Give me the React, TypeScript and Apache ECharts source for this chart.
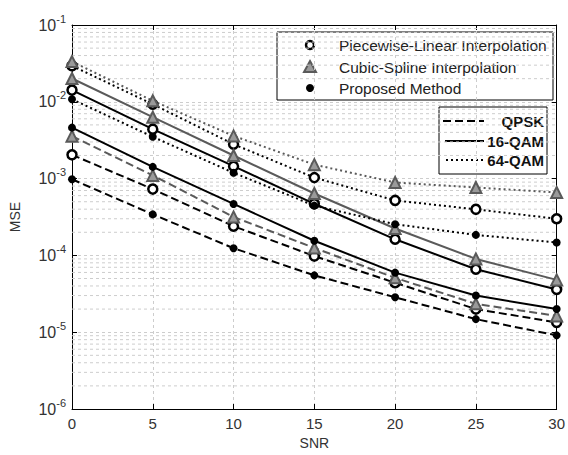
import React, { useEffect, useRef } from "react";
import * as echarts from "echarts";

const snr = [0, 5, 10, 15, 20, 25, 30];
const xTicks = [0, 5, 10, 15, 20, 25, 30];
const yTickExponents = [-6, -5, -4, -3, -2, -1];

const methodNames = ["Piecewise-Linear Interpolation", "Cubic-Spline Interpolation", "Proposed Method"];
const modulationNames = ["QPSK", "16-QAM", "64-QAM"];

const plQpsk = [2.04e-3, 7.3e-4, 2.4e-4, 9.8e-5, 4.4e-5, 2.0e-5, 1.34e-5];
const pl16 = [1.42e-2, 4.4e-3, 1.45e-3, 4.7e-4, 1.62e-4, 6.6e-5, 3.6e-5];
const pl64 = [2.94e-2, 9.3e-3, 2.8e-3, 1.03e-3, 5.2e-4, 3.98e-4, 3.0e-4];
const csQpsk = [3.57e-3, 1.1e-3, 3.17e-4, 1.25e-4, 5.1e-5, 2.34e-5, 1.63e-5];
const cs16 = [2.01e-2, 6.3e-3, 2.0e-3, 6.4e-4, 2.24e-4, 9.0e-5, 4.8e-5];
const cs64 = [3.34e-2, 1.03e-2, 3.6e-3, 1.52e-3, 8.9e-4, 7.66e-4, 6.6e-4];
const prQpsk = [9.8e-4, 3.42e-4, 1.24e-4, 5.5e-5, 2.85e-5, 1.48e-5, 9.1e-6];
const pr16 = [4.61e-3, 1.42e-3, 4.68e-4, 1.55e-4, 5.96e-5, 3.0e-5, 2.0e-5];
const pr64 = [1.08e-2, 3.5e-3, 1.19e-3, 4.45e-4, 2.55e-4, 1.85e-4, 1.47e-4];

const FONT = "'Liberation Sans', Arial, sans-serif";
const BLACK = "#000000";
const GRAY = "#5a5a5a";
const GRID = "#cdcdcd";

const dashTypes: Record<string, any> = {
  QPSK: [8, 4],
  "16-QAM": "solid",
  "64-QAM": [2, 3],
};

function makeSeries(name: string, values: number[], method: number, mod: string) {
  const color = method === 1 ? GRAY : BLACK;
  let symbol = "circle";
  let symbolSize = 9;
  let itemStyle: any = { color: "#ffffff", borderColor: BLACK, borderWidth: 2.5 };
  if (method === 1) {
    symbol = "triangle";
    symbolSize = 11;
    itemStyle = { color: "#9a9a9a", borderColor: GRAY, borderWidth: 2 };
  } else if (method === 2) {
    symbol = "circle";
    symbolSize = 8;
    itemStyle = { color: BLACK, borderColor: BLACK, borderWidth: 0 };
  }
  return {
    name,
    type: "line",
    xAxisIndex: 0,
    yAxisIndex: 0,
    data: snr.map((x, i) => [x, values[i]]),
    symbol,
    symbolSize,
    showSymbol: true,
    itemStyle,
    lineStyle: { color, width: 2, type: dashTypes[mod] },
    z: method === 2 ? 4 : 3,
  };
}

const minorValues: number[] = [];
yTickExponents.slice(0, -1).forEach((e) => {
  for (let m = 2; m <= 9; m++) minorValues.push(Number((m * Math.pow(10, e)).toPrecision(3)));
});

export default function App() {
  const ref = useRef<HTMLDivElement>(null);
  useEffect(() => {
    if (!ref.current) return;
    const chart = echarts.init(ref.current, null, { renderer: "svg" });
    const minorSeries = minorValues.map((v) => ({
      name: "minor-" + v,
      type: "line",
      silent: true,
      xAxisIndex: 0,
      yAxisIndex: 0,
      data: [[xTicks[0], v], [xTicks[xTicks.length - 1], v]],
      symbol: "none",
      lineStyle: { color: GRID, width: 1, type: [3, 3] },
      z: 1,
      tooltip: { show: false },
    }));
    const series: any[] = [
      ...minorSeries,
      makeSeries("PL 64-QAM", pl64, 0, "64-QAM"),
      makeSeries("CS 64-QAM", cs64, 1, "64-QAM"),
      makeSeries("Proposed 64-QAM", pr64, 2, "64-QAM"),
      makeSeries("PL 16-QAM", pl16, 0, "16-QAM"),
      makeSeries("CS 16-QAM", cs16, 1, "16-QAM"),
      makeSeries("Proposed 16-QAM", pr16, 2, "16-QAM"),
      makeSeries("PL QPSK", plQpsk, 0, "QPSK"),
      makeSeries("CS QPSK", csQpsk, 1, "QPSK"),
      makeSeries("Proposed QPSK", prQpsk, 2, "QPSK"),
    ];
    const supLabel = (v: number) => {
      const e = Math.round(Math.log10(v));
      return `{b|10}{s|${e}}`;
    };
    const labelRich = {
      b: { fontFamily: FONT, fontSize: 16, color: "#333" },
      s: { fontFamily: FONT, fontSize: 11, color: "#333", padding: [0, 0, 13, 0] },
    };
    const option: any = {
      animation: false,
      backgroundColor: "#ffffff",
      grid: { left: 63, right: 9, top: 25, bottom: 39, containLabel: false },
      xAxis: [
        {
          type: "value",
          min: 0,
          max: 30,
          interval: 5,
          name: "SNR",
          nameLocation: "middle",
          nameGap: 27,
          nameTextStyle: { fontFamily: FONT, fontSize: 14, color: "#333" },
          axisLine: { show: true, onZero: false, lineStyle: { color: "#000", width: 1 } },
          axisTick: { show: true, inside: true, length: 5, lineStyle: { color: "#000" } },
          axisLabel: { fontFamily: FONT, fontSize: 15, color: "#333", margin: 7 },
          splitLine: { show: true, lineStyle: { color: GRID, type: [3, 3], width: 1 } },
        },
        {
          type: "value",
          position: "top",
          min: 0,
          max: 30,
          interval: 5,
          axisLine: { show: true, onZero: false, lineStyle: { color: "#000", width: 1 } },
          axisTick: { show: true, inside: true, length: 5, lineStyle: { color: "#000" } },
          axisLabel: { show: false },
          splitLine: { show: false },
        },
      ],
      yAxis: [
        {
          type: "log",
          logBase: 10,
          min: 1e-6,
          max: 1e-1,
          name: "MSE",
          nameLocation: "middle",
          nameGap: 50,
          nameRotate: 90,
          nameTextStyle: { fontFamily: FONT, fontSize: 14, color: "#333" },
          axisLine: { show: true, onZero: false, lineStyle: { color: "#000", width: 1 } },
          axisTick: { show: true, inside: true, length: 5, lineStyle: { color: "#000" } },
          axisLabel: { formatter: supLabel, rich: labelRich, margin: 6 },
          splitLine: { show: true, lineStyle: { color: GRID, type: [3, 3], width: 1 } },
        },
        {
          type: "log",
          logBase: 10,
          min: 1e-6,
          max: 1e-1,
          position: "right",
          axisLine: { show: true, onZero: false, lineStyle: { color: "#000", width: 1 } },
          axisTick: { show: true, inside: true, length: 5, lineStyle: { color: "#000" } },
          axisLabel: { show: false },
          splitLine: { show: false },
        },
      ],
      series,
      graphic: [
        {
          type: "group",
          z: 100,
          children: [
            { type: "rect", shape: { x: 277, y: 32, width: 276, height: 68 }, style: { fill: "#fff", stroke: "#000", lineWidth: 1 } },
            { type: "circle", shape: { cx: 310, cy: 45, r: 4 }, style: { fill: "#fff", stroke: "#000", lineWidth: 2.5 } },
            { type: "polygon", shape: { points: [[310, 61], [316, 72], [304, 72]] }, style: { fill: "#9a9a9a", stroke: GRAY, lineWidth: 2 } },
            { type: "circle", shape: { cx: 310, cy: 88, r: 4 }, style: { fill: "#000" } },
            { type: "text", x: 339, y: 45, style: { text: methodNames[0], fontFamily: FONT, fontSize: 15.5, fill: "#222", verticalAlign: "middle" } },
            { type: "text", x: 339, y: 67, style: { text: methodNames[1], fontFamily: FONT, fontSize: 15.5, fill: "#222", verticalAlign: "middle" } },
            { type: "text", x: 339, y: 88, style: { text: methodNames[2], fontFamily: FONT, fontSize: 15.5, fill: "#222", verticalAlign: "middle" } },
          ],
        },
        {
          type: "group",
          z: 100,
          children: [
            { type: "rect", shape: { x: 439, y: 107, width: 108, height: 67 }, style: { fill: "#fff", stroke: "#000", lineWidth: 1 } },
            { type: "line", shape: { x1: 443, y1: 121, x2: 484, y2: 121 }, style: { stroke: "#000", lineWidth: 2, lineDash: [8, 4] } },
            { type: "line", shape: { x1: 445, y1: 141, x2: 484, y2: 141 }, style: { stroke: "#000", lineWidth: 2 } },
            { type: "line", shape: { x1: 446, y1: 160, x2: 484, y2: 160 }, style: { stroke: "#000", lineWidth: 2, lineDash: [2, 3] } },
            { type: "text", x: 544, y: 121, style: { text: modulationNames[0], fontFamily: FONT, fontSize: 15, fontWeight: "bold", fill: "#111", align: "right", verticalAlign: "middle" } },
            { type: "text", x: 544, y: 141, style: { text: modulationNames[1], fontFamily: FONT, fontSize: 15, fontWeight: "bold", fill: "#111", align: "right", verticalAlign: "middle" } },
            { type: "text", x: 544, y: 160, style: { text: modulationNames[2], fontFamily: FONT, fontSize: 15, fontWeight: "bold", fill: "#111", align: "right", verticalAlign: "middle" } },
          ],
        },
      ],
    };
    chart.setOption(option);
    return () => chart.dispose();
  }, []);
  return <div ref={ref} style={{ position: "fixed", left: 0, top: 0, width: 568, height: 455 }} />;
}
